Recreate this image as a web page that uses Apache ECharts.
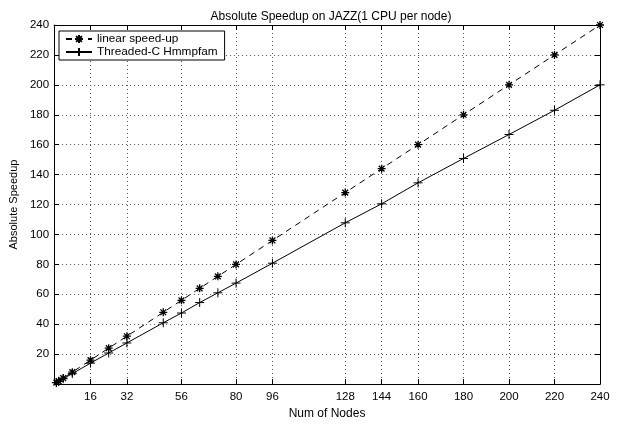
<!DOCTYPE html>
<html><head><meta charset="utf-8">
<script src="https://cdn.jsdelivr.net/npm/echarts@6/dist/echarts.min.js"></script>
<style>html,body{margin:0;padding:0;background:#fff}#c{width:617px;height:425px}</style>
</head><body><div id="c"></div>
<script>
const nodes = [1, 2, 4, 8, 16, 24, 32, 48, 56, 64, 72, 80, 96, 128, 144, 160, 180, 200, 220, 240];
const linearSpeedup = [1, 2, 4, 8, 16, 24, 32, 48, 56, 64, 72, 80, 96, 128, 144, 160, 180, 200, 220, 240];
const threadedSpeedup = [1, 1.9, 3.6, 7, 14, 20.8, 27.5, 41, 47.5, 54.5, 61, 67.5, 80.8, 107.8, 120.5, 134.5, 150.8, 166.8, 183, 200];
const xTicks = [16, 32, 56, 80, 96, 128, 144, 160, 180, 200, 220, 240];
const yTicks = [20, 40, 60, 80, 100, 120, 140, 160, 180, 200, 220, 240];

const font = 'Liberation Sans, Arial, Helvetica, sans-serif';
const star = 'path://M0,-5L0,5M-5,0L5,0M-3.6,-3.6L3.6,3.6M-3.6,3.6L3.6,-3.6';
const plus = 'path://M0,-5L0,5M-5,0L5,0';

const chart = echarts.init(document.getElementById('c'), null, {renderer: 'canvas'});
const axBase = {
  type: 'value', min: 0, max: 240,
  axisLine: {show: true, onZero: false, lineStyle: {color: '#000', width: 1}},
  axisTick: {show: true, inside: true, length: 5, lineStyle: {color: '#000'}},
  axisLabel: {color: '#000', fontFamily: font, fontSize: 11.5},
};
chart.setOption({
  animation: false,
  title: {text: 'Absolute Speedup on JAZZ(1 CPU per node)', left: 326, textAlign: 'center', top: 6,
    textStyle: {fontFamily: font, fontSize: 12, fontWeight: 'normal', color: '#000'}},
  grid: {left: 52, right: 17, top: 25, bottom: 33},
  legend: {
    left: 59, top: 31, orient: 'vertical', itemGap: 1, itemWidth: 26, itemHeight: 10,
    padding: [2, 7, 2, 6], borderColor: '#000', borderWidth: 1, backgroundColor: '#fff',
    textStyle: {fontFamily: font, fontSize: 11.8, color: '#000'},
    data: ['linear speed-up', 'Threaded-C Hmmpfam']
  },
  xAxis: [
    Object.assign({}, axBase, {
      position: 'bottom',
      name: 'Num of Nodes', nameLocation: 'middle', nameGap: 20,
      nameTextStyle: {fontFamily: font, fontSize: 12, color: '#000'},
      axisTick: {show: true, inside: true, length: 5, lineStyle: {color: '#000'}, customValues: xTicks},
      axisLabel: {color: '#000', fontFamily: font, fontSize: 11.5, margin: 7, customValues: xTicks},
      splitLine: {show: true, lineStyle: {color: '#555', type: [1, 3], width: 1}}
    }),
    Object.assign({}, axBase, {
      position: 'top',
      axisTick: {show: true, inside: true, length: 5, lineStyle: {color: '#000'}, customValues: xTicks},
      axisLabel: {show: false, customValues: xTicks},
      splitLine: {show: false}
    })
  ],
  yAxis: [
    Object.assign({}, axBase, {
      position: 'left', interval: 20,
      name: 'Absolute Speedup', nameLocation: 'middle', nameGap: 28,
      nameTextStyle: {fontFamily: font, fontSize: 11, color: '#000'},
      axisTick: {show: true, inside: true, length: 5, lineStyle: {color: '#000'}, customValues: yTicks},
      axisLabel: {color: '#000', fontFamily: font, fontSize: 11.5, margin: 5, customValues: yTicks},
      splitLine: {show: true, lineStyle: {color: '#555', type: [1, 3], width: 1}}
    }),
    Object.assign({}, axBase, {
      position: 'right', interval: 20,
      axisTick: {show: true, inside: true, length: 5, lineStyle: {color: '#000'}, customValues: yTicks},
      axisLabel: {show: false, customValues: yTicks},
      splitLine: {show: false}
    })
  ],
  series: [
    {
      name: 'linear speed-up', type: 'line', xAxisIndex: 0, yAxisIndex: 0,
      data: nodes.map((n, i) => [n, linearSpeedup[i]]),
      symbol: star, symbolSize: 8,
      lineStyle: {color: '#000', width: 1, type: [6, 5]},
      itemStyle: {color: 'rgba(0,0,0,0)', borderColor: '#000', borderWidth: 1.3}
    },
    {
      name: 'Threaded-C Hmmpfam', type: 'line', xAxisIndex: 0, yAxisIndex: 0,
      data: nodes.map((n, i) => [n, threadedSpeedup[i]]),
      symbol: plus, symbolSize: 9,
      lineStyle: {color: '#000', width: 1},
      itemStyle: {color: 'rgba(0,0,0,0)', borderColor: '#000', borderWidth: 1}
    }
  ]
});
</script></body></html>
